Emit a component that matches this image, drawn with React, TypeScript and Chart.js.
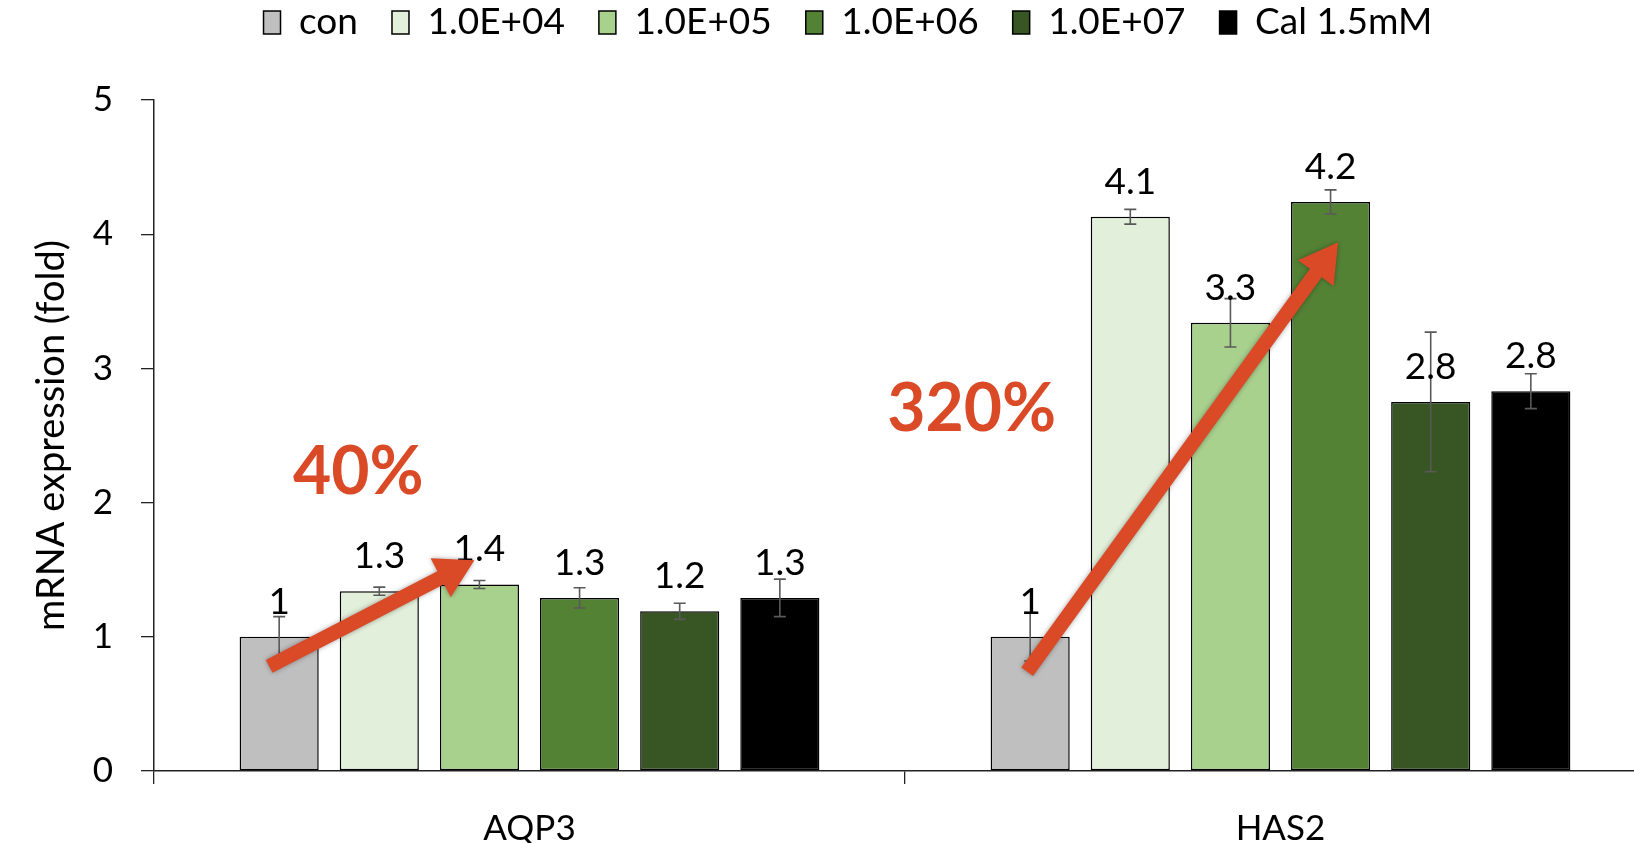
import React, { useEffect, useRef } from 'react';
import { Chart, registerables } from 'chart.js';

Chart.register(...registerables);

// ---------- data ----------
const categories = ['AQP3', 'HAS2'];
const seriesNames = ['con', '1.0E+04', '1.0E+05', '1.0E+06', '1.0E+07', 'Cal 1.5mM'];

const conValues = [1.0, 1.0];
const e4Values = [1.34, 4.13];
const e5Values = [1.39, 3.34];
const e6Values = [1.29, 4.24];
const e7Values = [1.19, 2.75];
const calValues = [1.29, 2.83];

const conErrors = [0.15, 0.18];
const e4Errors = [0.03, 0.055];
const e5Errors = [0.03, 0.18];
const e6Errors = [0.075, 0.09];
const e7Errors = [0.06, 0.52];
const calErrors = [0.14, 0.13];

const yTicks = [0, 1, 2, 3, 4, 5];

// annotations (in data space: series index within a category, value)
const annotationTexts = ['40%', '320%'];
const annotationSeries = [0.79, -0.585];
const annotationValue = [2.22, 2.69];
const arrowFromSeries = [-0.1, -0.03];
const arrowFromValue = [0.78, 0.74];
const arrowToSeries = [1.95, 3.075];
const arrowToValue = [1.57, 3.94];

const seriesValues = [conValues, e4Values, e5Values, e6Values, e7Values, calValues];
const seriesErrors = [conErrors, e4Errors, e5Errors, e6Errors, e7Errors, calErrors];
const seriesColors = ['#BFBFBF', '#E2EFDA', '#A9D18E', '#548235', '#375623', '#000000'];

const FONT = 'Lato, "Open Sans", sans-serif';
const ACCENT = '#DA4A27';

export default function App() {
  const ref = useRef<HTMLCanvasElement>(null);

  useEffect(() => {
    const canvas = ref.current;
    if (!canvas) return;
    const W = 1700;
    const H = 843;
    const AREA_LEFT = 154;
    const AREA_TOP = 100;
    const AREA_BOTTOM = 771;
    const AREA_RIGHT = 1656;
    const PAD_TOP = -30;
    const PAD_LEFT = 40;

    const legendHeight = {
      id: 'legendHeight',
      beforeInit(chart: any) {
        const orig = chart.legend.fit;
        chart.legend.fit = function () {
          orig.call(this);
          this.height = AREA_TOP - PAD_TOP;
        };
      },
    };

    const seriesX = (chart: any, cat: number, s: number) => {
      const m0 = chart.getDatasetMeta(0).data[cat];
      const m1 = chart.getDatasetMeta(1).data[cat];
      return m0.x + s * (m1.x - m0.x);
    };

    const drawArrow = (ctx: CanvasRenderingContext2D, x1: number, y1: number, x2: number, y2: number) => {
      const ang = Math.atan2(y2 - y1, x2 - x1);
      const headLen = 38;
      const headHalf = 22;
      const shaft = 14.5;
      const bx = x2 - headLen * Math.cos(ang);
      const by = y2 - headLen * Math.sin(ang);
      const nx = -Math.sin(ang);
      const ny = Math.cos(ang);
      ctx.save();
      ctx.shadowColor = 'rgba(0,0,0,0.35)';
      ctx.shadowBlur = 5;
      ctx.fillStyle = ACCENT;
      ctx.beginPath();
      ctx.moveTo(x1 + (nx * shaft) / 2, y1 + (ny * shaft) / 2);
      ctx.lineTo(bx + (nx * shaft) / 2, by + (ny * shaft) / 2);
      ctx.lineTo(bx + nx * headHalf, by + ny * headHalf);
      ctx.lineTo(x2, y2);
      ctx.lineTo(bx - nx * headHalf, by - ny * headHalf);
      ctx.lineTo(bx - (nx * shaft) / 2, by - (ny * shaft) / 2);
      ctx.lineTo(x1 - (nx * shaft) / 2, y1 - (ny * shaft) / 2);
      ctx.closePath();
      ctx.fill();
      ctx.restore();
    };

    const overlay = {
      id: 'overlay',
      afterDatasetsDraw(chart: any) {
        const ctx: CanvasRenderingContext2D = chart.ctx;
        const y = chart.scales.y;
        // error bars
        ctx.save();
        ctx.strokeStyle = '#595959';
        ctx.lineWidth = 1.6;
        seriesValues.forEach((vals, i) => {
          const meta = chart.getDatasetMeta(i);
          vals.forEach((v, j) => {
            const el = meta.data[j];
            const e = seriesErrors[i][j];
            const yt = y.getPixelForValue(v + e);
            const yb = y.getPixelForValue(v - e);
            ctx.beginPath();
            ctx.moveTo(el.x, yt);
            ctx.lineTo(el.x, yb);
            ctx.moveTo(el.x - 6, yt);
            ctx.lineTo(el.x + 6, yt);
            ctx.moveTo(el.x - 6, yb);
            ctx.lineTo(el.x + 6, yb);
            ctx.stroke();
          });
        });
        ctx.restore();
        // value labels
        ctx.save();
        ctx.fillStyle = '#000';
        ctx.font = `37px ${FONT}`;
        ctx.textAlign = 'center';
        ctx.textBaseline = 'alphabetic';
        seriesValues.forEach((vals, i) => {
          const meta = chart.getDatasetMeta(i);
          vals.forEach((v, j) => {
            const el = meta.data[j];
            ctx.fillText(String(Number(v.toFixed(1))), el.x, el.y - 23);
          });
        });
        ctx.restore();
        // arrows
        categories.forEach((_, c) => {
          drawArrow(
            ctx,
            seriesX(chart, c, arrowFromSeries[c]),
            y.getPixelForValue(arrowFromValue[c]),
            seriesX(chart, c, arrowToSeries[c]),
            y.getPixelForValue(arrowToValue[c])
          );
        });
        // percentage texts
        ctx.save();
        ctx.fillStyle = ACCENT;
        ctx.font = `bold 66px ${FONT}`;
        ctx.textAlign = 'center';
        ctx.textBaseline = 'middle';
        categories.forEach((_, c) => {
          ctx.fillText(
            annotationTexts[c],
            seriesX(chart, c, annotationSeries[c]),
            y.getPixelForValue(annotationValue[c])
          );
        });
        ctx.restore();
      },
    };

    const chart = new Chart(canvas, {
      type: 'bar',
      data: {
        labels: categories,
        datasets: seriesNames.map((name, i) => ({
          label: name,
          data: seriesValues[i],
          backgroundColor: seriesColors[i],
          borderColor: '#000',
          borderWidth: 1.5,
          borderSkipped: false,
          categoryPercentage: 0.8,
          barPercentage: 0.79,
        })),
      },
      options: {
        animation: false,
        responsive: false,
        devicePixelRatio: 1,
        layout: { padding: { top: PAD_TOP, left: PAD_LEFT, right: W - AREA_RIGHT, bottom: 0 } },
        plugins: {
          legend: {
            position: 'top',
            labels: {
              font: { size: 37, family: FONT },
              color: '#000',
              boxWidth: 17,
              boxHeight: 23,
              padding: 34,
            },
          },
          tooltip: { enabled: false },
        },
        scales: {
          x: {
            type: 'category',
            offset: true,
            grid: {
              display: true,
              drawOnChartArea: false,
              drawTicks: true,
              tickLength: 13,
              offset: true,
              color: '#222',
              lineWidth: 1.3,
            },
            border: { display: true, color: '#222', width: 1.5 },
            ticks: { font: { size: 35, family: FONT }, color: '#000', padding: 24 },
            afterFit: (s: any) => {
              s.height = H - AREA_BOTTOM;
            },
          },
          y: {
            min: 0,
            max: 5,
            afterBuildTicks: (s: any) => {
              s.ticks = yTicks.map((v) => ({ value: v }));
            },
            ticks: { font: { size: 35, family: FONT }, color: '#000', padding: 28 },
            grid: {
              display: true,
              drawOnChartArea: false,
              drawTicks: true,
              tickLength: 13,
              color: '#222',
              lineWidth: 1.3,
            },
            border: { display: true, color: '#222', width: 1.5 },
            title: {
              display: true,
              text: 'mRNA expression (fold)',
              font: { size: 38, family: FONT },
              color: '#000',
              padding: { top: -11, bottom: 0 },
            },
            afterFit: (s: any) => {
              s.width = AREA_LEFT - PAD_LEFT;
            },
          },
        },
      },
      plugins: [legendHeight, overlay],
    } as any);

    return () => chart.destroy();
  }, []);

  return (
    <div
      style={{
        position: 'fixed',
        left: 0,
        top: 0,
        width: 1634,
        height: 843,
        overflow: 'hidden',
        background: '#fff',
      }}
    >
      <canvas ref={ref} width={1700} height={843} style={{ display: 'block', width: 1700, height: 843 }} />
    </div>
  );
}
